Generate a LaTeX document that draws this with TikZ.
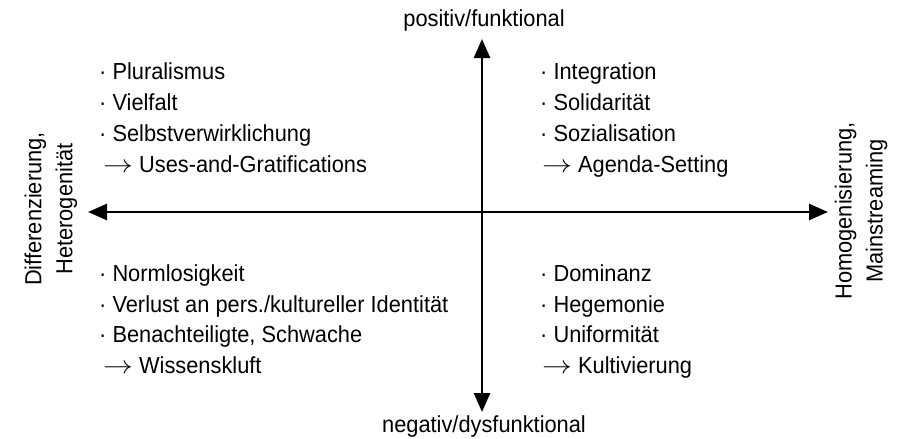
\documentclass[tikz,border=0pt]{standalone}
\usepackage{fontspec}
\usepackage{graphicx}
\setmainfont{Liberation Sans}
\newfontfamily\reffont[FakeStretch=0.94]{Liberation Sans}
\usetikzlibrary{arrows.meta}
\newcommand{\rarr}{\scalebox{1.2}[1]{$\rightarrow$}}
\begin{document}
\begin{tikzpicture}[x=1pt,y=-1pt,
  lbl/.style={font=\reffont\fontsize{23.2}{31}\selectfont, inner sep=0pt, anchor=base west},
  axislbl/.style={font=\reffont\fontsize{23.2}{31}\selectfont, inner sep=0pt},
  sidelbl/.style={font=\reffont\fontsize{23.2}{31}\selectfont, inner sep=0pt, align=center, rotate=90},
  axis/.style={line width=2.6pt, {Triangle[length=19pt,width=16pt]}-{Triangle[length=19pt,width=16pt]}}
]
\useasboundingbox (0,0) rectangle (906,439);
% axis end points
\coordinate (top) at (482,39);
\coordinate (bot) at (482,412);
\coordinate (lft) at (88,212);
\coordinate (rgt) at (828,212);
\draw[axis] (top) -- (bot);
\draw[axis] (lft) -- (rgt);
% axis labels
\node[axislbl, anchor=base] (pos) at (484,27) {positiv/funktional};
\node[axislbl, anchor=base] (neg) at (484,432) {negativ/dysfunktional};
\node[sidelbl] (diff) at (51,209) {Differenzierung,\\Heterogenität};
\node[sidelbl] (homo) at (861,211) {Homogenisierung,\\Mainstreaming};
% top-left
\node[lbl] (tl1) at (99,79) {· Pluralismus};
\node[lbl] (tl2) at (99,110) {· Vielfalt};
\node[lbl] (tl3) at (99,141) {· Selbstverwirklichung};
\node[lbl] (tl4) at (103,172) {\rarr\ Uses-and-Gratifications};
% top-right
\node[lbl] (tr1) at (540,79) {· Integration};
\node[lbl] (tr2) at (540,110) {· Solidarität};
\node[lbl] (tr3) at (540,141) {· Sozialisation};
\node[lbl] (tr4) at (542,172) {\rarr\ Agenda-Setting};
% bottom-left
\node[lbl] (bl1) at (99,281) {· Normlosigkeit};
\node[lbl] (bl2) at (99,312) {· Verlust an pers./kultureller Identität};
\node[lbl] (bl3) at (99,342) {· Benachteiligte, Schwache};
\node[lbl] (bl4) at (103,373) {\rarr\ Wissenskluft};
% bottom-right
\node[lbl] (br1) at (540,281) {· Dominanz};
\node[lbl] (br2) at (540,312) {· Hegemonie};
\node[lbl] (br3) at (540,342) {· Uniformität};
\node[lbl] (br4) at (542,373) {\rarr\ Kultivierung};
\end{tikzpicture}
\end{document}
